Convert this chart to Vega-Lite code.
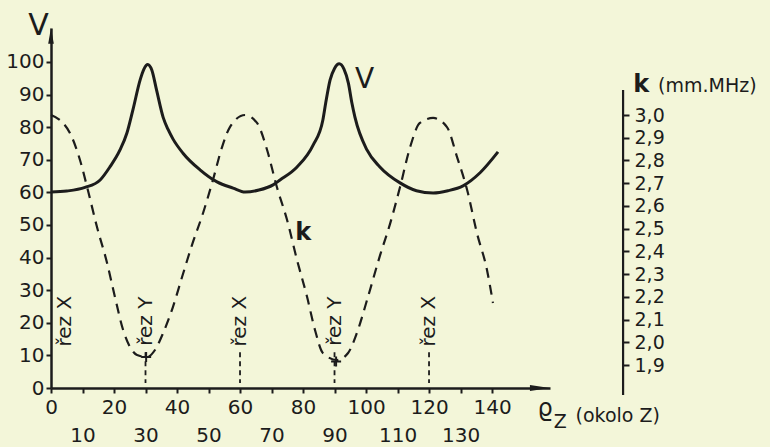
{
  "$schema": "https://vega.github.io/schema/vega-lite/v6.json",
  "width": 499,
  "height": 360,
  "autosize": "none",
  "padding": {"left": 51, "top": 28, "right": 220, "bottom": 59},
  "background": "#f3f6d9",
  "config": {
    "view": {"stroke": null},
    "font": "DejaVu Sans",
    "text": {"color": "#1c1c1c", "font": "DejaVu Sans"},
    "axis": {"grid": false, "domainColor": "#1c1c1c", "tickColor": "#1c1c1c", "labelColor": "#1c1c1c", "labelFont": "DejaVu Sans", "ticks": true, "labelOverlap": false, "tickCount": 40}
  },
  "datasets": {
    "v": [
      {"rho": 0, "V": 60.1}, {"rho": 5, "V": 60.4}, {"rho": 10.8, "V": 61.5}, {"rho": 15.6, "V": 63.8},
      {"rho": 18.7, "V": 67.8}, {"rho": 21.9, "V": 73}, {"rho": 24.1, "V": 78.2}, {"rho": 26, "V": 85.3},
      {"rho": 28.3, "V": 94.5}, {"rho": 29.5, "V": 97.8}, {"rho": 30.7, "V": 99.2}, {"rho": 32, "V": 97.5},
      {"rho": 33.5, "V": 91.4}, {"rho": 35.6, "V": 83}, {"rho": 37.2, "V": 79.2}, {"rho": 38.7, "V": 76.4},
      {"rho": 41.9, "V": 72}, {"rho": 47.3, "V": 66.9}, {"rho": 52.7, "V": 63.2}, {"rho": 57.8, "V": 61.3},
      {"rho": 61.6, "V": 60.1}, {"rho": 66, "V": 60.7}, {"rho": 70.5, "V": 62.3}, {"rho": 72.7, "V": 63.8},
      {"rho": 78.1, "V": 67.8}, {"rho": 83.2, "V": 74.5}, {"rho": 86.3, "V": 82.2}, {"rho": 87.2, "V": 87.4},
      {"rho": 88.6, "V": 94.5}, {"rho": 90, "V": 98}, {"rho": 91.5, "V": 99.4}, {"rho": 93, "V": 97.8},
      {"rho": 94.4, "V": 93.5}, {"rho": 95.5, "V": 87.5}, {"rho": 96.5, "V": 83}, {"rho": 100.3, "V": 73},
      {"rho": 104.4, "V": 67.8}, {"rho": 110.8, "V": 62.9}, {"rho": 116, "V": 60.5}, {"rho": 121.3, "V": 59.8},
      {"rho": 126, "V": 60.5}, {"rho": 130.8, "V": 62}, {"rho": 136.2, "V": 66}, {"rho": 141.9, "V": 72.4}
    ],
    "k": [
      {"rho": 0, "k": 3.0}, {"rho": 3.8, "k": 2.965}, {"rho": 6.0, "k": 2.921}, {"rho": 9.2, "k": 2.802},
      {"rho": 11.7, "k": 2.67}, {"rho": 14.6, "k": 2.507}, {"rho": 17.8, "k": 2.349}, {"rho": 20.3, "k": 2.199},
      {"rho": 22.9, "k": 2.054}, {"rho": 25.1, "k": 1.979}, {"rho": 27.3, "k": 1.944}, {"rho": 30.5, "k": 1.935},
      {"rho": 33.0, "k": 1.966}, {"rho": 35.6, "k": 2.041}, {"rho": 38.7, "k": 2.155}, {"rho": 41.6, "k": 2.287},
      {"rho": 44.8, "k": 2.43}, {"rho": 48.3, "k": 2.57}, {"rho": 51.4, "k": 2.714}, {"rho": 54.3, "k": 2.859},
      {"rho": 56.8, "k": 2.947}, {"rho": 61.6, "k": 3.0}, {"rho": 65.4, "k": 2.965}, {"rho": 68.6, "k": 2.846},
      {"rho": 71.7, "k": 2.683}, {"rho": 74.9, "k": 2.54}, {"rho": 78.1, "k": 2.362}, {"rho": 81.3, "k": 2.199},
      {"rho": 83.8, "k": 2.054}, {"rho": 86.3, "k": 1.953}, {"rho": 90.8, "k": 1.922}, {"rho": 94.3, "k": 1.953},
      {"rho": 97.1, "k": 2.041}, {"rho": 100.6, "k": 2.199}, {"rho": 104.4, "k": 2.38}, {"rho": 107.6, "k": 2.52},
      {"rho": 110.8, "k": 2.683}, {"rho": 114, "k": 2.859}, {"rho": 117.1, "k": 2.965}, {"rho": 121.3, "k": 2.987},
      {"rho": 125.7, "k": 2.947}, {"rho": 128.9, "k": 2.815}, {"rho": 132.1, "k": 2.67}, {"rho": 135.2, "k": 2.481},
      {"rho": 138.4, "k": 2.318}, {"rho": 140.3, "k": 2.173}
    ],
    "cuts": [
      {"rho": 0, "label": "řez X"}, {"rho": 30, "label": "řez Y"}, {"rho": 60, "label": "řez X"},
      {"rho": 90, "label": "řez Y"}, {"rho": 120, "label": "řez X"}
    ],
    "kmin": [{"rho": 30.2, "k": 1.935}, {"rho": 90.5, "k": 1.915}],
    "one": [{}]
  },
  "layer": [
    {
      "layer": [
        {
          "data": {"name": "v"},
          "mark": {"type": "line", "interpolate": "monotone", "color": "#1c1c1c", "strokeWidth": 3},
          "encoding": {
            "x": {"field": "rho", "type": "quantitative", "title": null,
              "scale": {"domain": [0, 158.4], "nice": false, "zero": false},
              "axis": {"values": [0, 10, 20, 30, 40, 50, 60, 70, 80, 90, 100, 110, 120, 130, 140], "tickCount": 40,
                "labelOverlap": false, "labelFlush": false, "labelBound": false, "ticks": true,
                "labelFontSize": 20, "tickSize": 5, "tickWidth": 2, "domainWidth": 2.5,
                "labelPadding": {"condition": {"test": "datum.value % 20 == 10", "value": 32}, "value": 4},
                "title": null}},
            "y": {"field": "V", "type": "quantitative", "title": null,
              "scale": {"domain": [0, 110.4], "nice": false, "zero": false},
              "axis": {"values": [0, 10, 20, 30, 40, 50, 60, 70, 80, 90, 100], "tickCount": 40, "labelOverlap": false, "ticks": true,
                "labelFontSize": 20, "tickSize": 5, "tickWidth": 2, "domainWidth": 2.5,
                "labelPadding": 2, "labelFlush": false, "labelBound": false, "title": null}}
          }
        },
        {
          "data": {"name": "cuts"},
          "transform": [{"filter": "datum.rho > 0"}],
          "mark": {"type": "rule", "color": "#1c1c1c", "strokeWidth": 1.8, "strokeDash": [5, 4]},
          "encoding": {
            "x": {"field": "rho", "type": "quantitative", "title": null},
            "y": {"datum": 11},
            "y2": {"datum": 1.5}
          }
        },
        {
          "data": {"name": "cuts"},
          "transform": [{"filter": "datum.rho > 0"}],
          "mark": {"type": "text", "angle": 270, "fontSize": 20, "align": "center", "baseline": "middle"},
          "encoding": {
            "x": {"field": "rho", "type": "quantitative", "title": null},
            "y": {"datum": 20.5},
            "text": {"field": "label"}
          }
        },
        {
          "data": {"name": "cuts"},
          "transform": [{"filter": "datum.rho == 0"}],
          "mark": {"type": "text", "angle": 270, "fontSize": 20, "align": "center", "baseline": "middle", "dy": 14},
          "encoding": {
            "x": {"field": "rho", "type": "quantitative", "title": null},
            "y": {"datum": 20.5},
            "text": {"field": "label"}
          }
        },
        {
          "data": {"name": "one"},
          "mark": {"type": "point", "shape": "M0,-1L0.35,1L-0.35,1Z", "filled": true, "color": "#1c1c1c", "size": 256, "opacity": 1},
          "encoding": {"x": {"datum": 0}, "y": {"datum": 108}}
        },
        {
          "data": {"name": "one"},
          "mark": {"type": "point", "shape": "M1,0L-1,-0.3L-1,0.3Z", "filled": true, "color": "#1c1c1c", "size": 400, "opacity": 1},
          "encoding": {"x": {"datum": 155.2}, "y": {"datum": 0}}
        },
        {
          "data": {"name": "one"},
          "mark": {"type": "text", "text": "V", "fontSize": 30, "align": "center", "baseline": "alphabetic"},
          "encoding": {"x": {"datum": -4}, "y": {"datum": 108.3}}
        },
        {
          "data": {"name": "one"},
          "mark": {"type": "text", "text": "V", "fontSize": 28, "align": "left", "baseline": "alphabetic"},
          "encoding": {"x": {"datum": 96.5}, "y": {"datum": 92}}
        },
        {
          "data": {"name": "one"},
          "mark": {"type": "text", "text": "k", "fontSize": 24, "fontWeight": "bold", "align": "left", "baseline": "alphabetic"},
          "encoding": {"x": {"datum": 77.5}, "y": {"datum": 45.4}}
        },
        {
          "data": {"name": "one"},
          "mark": {"type": "text", "text": "ϱ", "fontSize": 24, "align": "left", "baseline": "alphabetic"},
          "encoding": {"x": {"datum": 154.4}, "y": {"datum": -8.6}}
        },
        {
          "data": {"name": "one"},
          "mark": {"type": "text", "text": "Z", "fontSize": 19, "align": "left", "baseline": "alphabetic"},
          "encoding": {"x": {"datum": 159.6}, "y": {"datum": -12.3}}
        },
        {
          "data": {"name": "one"},
          "mark": {"type": "text", "text": "(okolo Z)", "fontSize": 19, "align": "left", "baseline": "alphabetic"},
          "encoding": {"x": {"datum": 166.5}, "y": {"datum": -10.4}}
        },
        {
          "data": {"name": "one"},
          "mark": {"type": "text", "text": "k", "fontSize": 24, "fontWeight": "bold", "align": "left", "baseline": "alphabetic"},
          "encoding": {"x": {"datum": 184.8}, "y": {"datum": 90.8}}
        },
        {
          "data": {"name": "one"},
          "mark": {"type": "text", "text": "(mm.MHz)", "fontSize": 19, "align": "left", "baseline": "alphabetic"},
          "encoding": {"x": {"datum": 192.7}, "y": {"datum": 90.8}}
        }
      ]
    },
    {
      "layer": [
        {
          "data": {"name": "k"},
          "mark": {"type": "line", "interpolate": "monotone", "color": "#1c1c1c", "strokeWidth": 2.2, "strokeDash": [10, 7]},
          "encoding": {
            "x": {"field": "rho", "type": "quantitative", "title": null},
            "y": {"field": "k", "type": "quantitative", "title": null,
              "scale": {"domain": [1.7988, 3.3828], "nice": false, "zero": false},
              "axis": {"orient": "right", "offset": 73, "domain": false, "labelOverlap": false, "ticks": true, "tickCount": 40,
                "values": [1.9, 2.0, 2.1, 2.2, 2.3, 2.4, 2.5, 2.6, 2.7, 2.8, 2.9, 3.0],
                "labelExpr": "replace(format(datum.value, '.1f'), '.', ',')",
                "labelFontSize": 19, "tickSize": 6, "tickWidth": 2, "labelPadding": 5,
                "labelFlush": false, "labelBound": false, "title": null}}
          }
        },
        {
          "data": {"name": "one"},
          "mark": {"type": "rule", "color": "#1c1c1c", "strokeWidth": 2.2},
          "encoding": {"x": {"datum": 181.6}, "y": {"datum": 3.11}, "y2": {"datum": 1.768}}
        },
        {
          "data": {"name": "kmin"},
          "mark": {"type": "point", "shape": "M-1,0H1M0,-1V1", "filled": false, "color": "#1c1c1c", "strokeWidth": 2, "size": 100, "opacity": 1},
          "encoding": {
            "x": {"field": "rho", "type": "quantitative", "title": null},
            "y": {"field": "k", "type": "quantitative", "title": null}
          }
        }
      ]
    }
  ],
  "resolve": {"scale": {"y": "independent"}}
}
